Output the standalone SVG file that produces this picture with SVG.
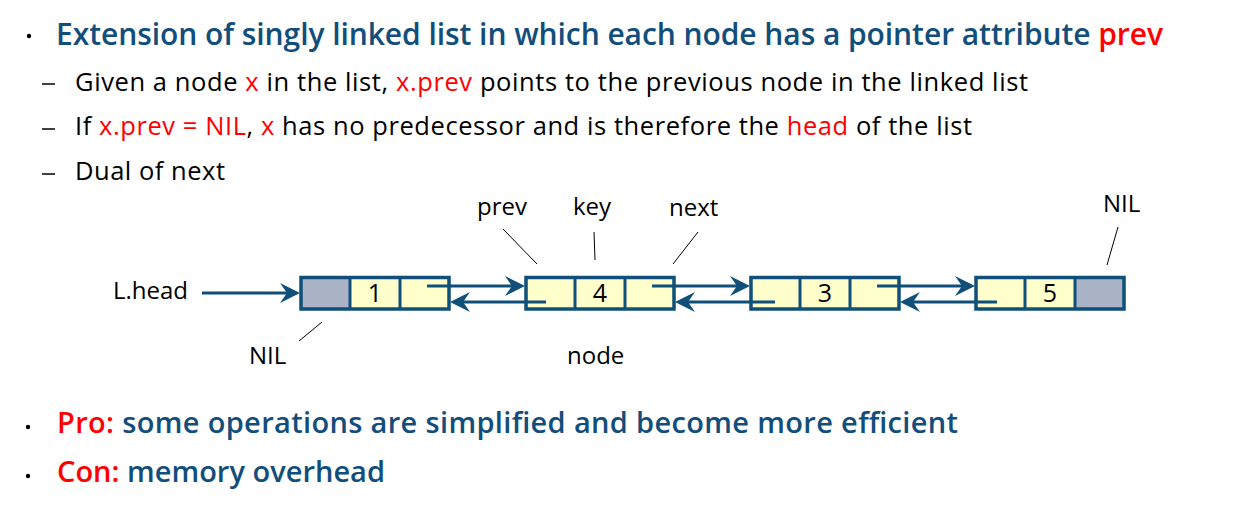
<svg xmlns="http://www.w3.org/2000/svg" width="1242" height="521" viewBox="0 0 1242 521">
<style>
.t{font-family:"Open Sans","DejaVu Sans",sans-serif}
.h{font-size:30px;font-weight:600;fill:#124e7c}
.b{font-size:25.5px;fill:#000}
.p{font-size:29px;font-weight:600;fill:#124e7c}
.r{fill:#ff0000}
.lbl{font-family:"Open Sans","DejaVu Sans",sans-serif;font-size:24px;fill:#000}
.num{font-family:"Open Sans","DejaVu Sans",sans-serif;font-size:25px;fill:#000;text-anchor:middle}
.frame{fill:none;stroke:#0f4f7a;stroke-width:3.5}
.div{stroke:#0f4f7a;stroke-width:3}
.y{fill:#ffffcc}
.g{fill:#aab3c5}
.ln{stroke:#0f4f7a;stroke-width:3;fill:none}
.ah{fill:#0f4f7a}
.lead{stroke:#000;stroke-width:1;fill:none}
.dash{stroke:#000;stroke-width:1.5}
</style>
<defs>
<path id="ahR" d="M0,0 L-20,-10 L-13,0 L-20,10 Z"/>
<path id="ahL" d="M0,0 L20,-10 L13,0 L20,10 Z"/>
</defs>
<rect width="1242" height="521" fill="#fff"/>

<g id="text">
<circle cx="29" cy="36" r="2.2" fill="#000"/>
<text class="t h" x="56" y="45" textLength="1107" lengthAdjust="spacing">Extension of singly linked list in which each node has a pointer attribute <tspan class="r">prev</tspan></text>
<line class="dash" x1="42" y1="84" x2="55" y2="84"/>
<text class="t b" x="75" y="91" textLength="953" lengthAdjust="spacing">Given a node <tspan class="r">x</tspan> in the list, <tspan class="r">x.prev</tspan> points to the previous node in the linked list</text>
<line class="dash" x1="42" y1="129" x2="55" y2="129"/>
<text class="t b" x="75" y="135" textLength="897" lengthAdjust="spacing">If <tspan class="r">x.prev = NIL</tspan>, <tspan class="r">x</tspan> has no predecessor and is therefore the <tspan class="r">head</tspan> of the list</text>
<line class="dash" x1="42" y1="174" x2="55" y2="174"/>
<text class="t b" x="75" y="180" textLength="150" lengthAdjust="spacing">Dual of next</text>
<circle cx="28" cy="427" r="2.2" fill="#000"/>
<text class="t p" x="57" y="433" textLength="901" lengthAdjust="spacing"><tspan class="r">Pro:</tspan> some operations are simplified and become more efficient</text>
<circle cx="28" cy="476" r="2.2" fill="#000"/>
<text class="t p" x="57" y="482" textLength="328" lengthAdjust="spacing"><tspan class="r">Con:</tspan> memory overhead</text>
</g>

<g id="labels">
<text class="lbl" x="113" y="299">L.head</text>
<text class="lbl" x="249" y="364">NIL</text>
<line class="lead" x1="322" y1="322" x2="299" y2="341"/>
<text class="lbl" x="477" y="215">prev</text>
<line class="lead" x1="503" y1="229" x2="537" y2="264"/>
<text class="lbl" x="573" y="215">key</text>
<line class="lead" x1="594" y1="232" x2="595" y2="260"/>
<text class="lbl" x="669" y="216">next</text>
<line class="lead" x1="698" y1="232" x2="673" y2="264"/>
<text class="lbl" x="567" y="364">node</text>
<text class="lbl" x="1103" y="212">NIL</text>
<line class="lead" x1="1118" y1="227" x2="1107" y2="265"/>
</g>

<g id="node1">
<rect class="g" x="301" y="277.5" width="49" height="31.5"/>
<rect class="y" x="350" y="277.5" width="99" height="31.5"/>
<rect class="frame" x="301" y="277.5" width="148" height="31.5"/>
<line class="div" x1="350" y1="277.5" x2="350" y2="309"/>
<line class="div" x1="400" y1="277.5" x2="400" y2="309"/>
<text class="num" x="375" y="302">1</text>
</g>
<g id="node4">
<rect class="y" x="526" y="277.5" width="148" height="31.5"/>
<rect class="frame" x="526" y="277.5" width="148" height="31.5"/>
<line class="div" x1="575" y1="277.5" x2="575" y2="309"/>
<line class="div" x1="625" y1="277.5" x2="625" y2="309"/>
<text class="num" x="600" y="302">4</text>
</g>
<g id="node3">
<rect class="y" x="751" y="277.5" width="148" height="31.5"/>
<rect class="frame" x="751" y="277.5" width="148" height="31.5"/>
<line class="div" x1="800" y1="277.5" x2="800" y2="309"/>
<line class="div" x1="850" y1="277.5" x2="850" y2="309"/>
<text class="num" x="825" y="302">3</text>
</g>
<g id="node5">
<rect class="y" x="976" y="277.5" width="99" height="31.5"/>
<rect class="g" x="1075" y="277.5" width="49" height="31.5"/>
<rect class="frame" x="976" y="277.5" width="148" height="31.5"/>
<line class="div" x1="1025" y1="277.5" x2="1025" y2="309"/>
<line class="div" x1="1075" y1="277.5" x2="1075" y2="309"/>
<text class="num" x="1050" y="302">5</text>
</g>

<g id="connectors">
<line class="ln" x1="202" y1="293" x2="290" y2="293"/>
<use href="#ahR" class="ah" x="300" y="293"/>

<line class="ln" x1="427" y1="286" x2="515" y2="286"/>
<use href="#ahR" class="ah" x="525" y="286"/>
<line class="ln" x1="546" y1="302" x2="460" y2="302"/>
<use href="#ahL" class="ah" x="450" y="302"/>

<line class="ln" x1="652" y1="286" x2="740" y2="286"/>
<use href="#ahR" class="ah" x="750" y="286"/>
<line class="ln" x1="775" y1="302" x2="685" y2="302"/>
<use href="#ahL" class="ah" x="675" y="302"/>

<line class="ln" x1="877" y1="286" x2="965" y2="286"/>
<use href="#ahR" class="ah" x="975" y="286"/>
<line class="ln" x1="997" y1="302" x2="910" y2="302"/>
<use href="#ahL" class="ah" x="900" y="302"/>
</g>
</svg>
